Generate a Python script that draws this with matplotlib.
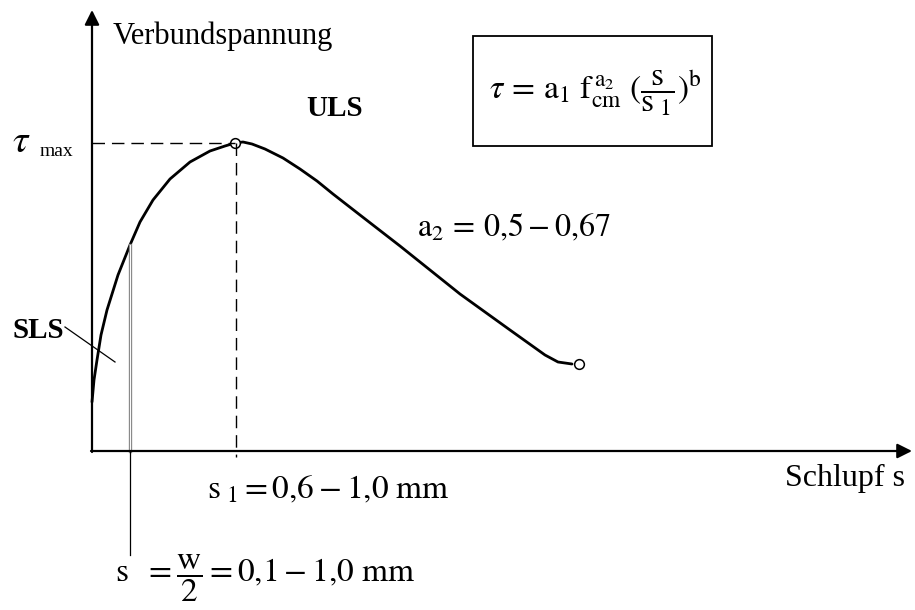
import numpy as np
import matplotlib
matplotlib.use("Agg")
import matplotlib.pyplot as plt
from matplotlib.patches import Rectangle

plt.rcParams['font.family'] = ['Liberation Serif', 'DejaVu Serif']
plt.rcParams['mathtext.fontset'] = 'stix'

# bond stress - slip curve (schematic units)
slip = [0, 2, 5, 9, 15, 26, 38, 48, 61, 78, 98, 118, 133, 143,
        151, 160, 173, 191, 208, 225, 241, 268, 308, 368, 418, 453, 466, 480, 487]
tau = [49, 71, 91, 116, 141, 176, 206, 229, 251, 272, 289, 300, 305, 308,
       309, 307, 302, 293, 282, 270, 257, 236, 205, 157, 121, 96, 89, 87, 87]

s_peak = 143
tau_max = 308
s_sls = 38
tau_sls = 206
s_end = 487
tau_end = 87

fig = plt.figure(figsize=(9.15, 6.1), dpi=100)
ax = fig.add_axes([0, 0, 1, 1])
ax.set_xlim(-92, 823)
ax.set_ylim(-159, 451)
ax.axis('off')

# axes with arrow heads
ax.annotate('', xy=(0, 441), xytext=(0, -1),
            arrowprops=dict(arrowstyle='-|>', lw=1.6, color='black', mutation_scale=22,
                            shrinkA=0, shrinkB=0))
ax.annotate('', xy=(820, 0), xytext=(-1, 0),
            arrowprops=dict(arrowstyle='-|>', lw=1.6, color='black', mutation_scale=22,
                            shrinkA=0, shrinkB=0))

# curve
ax.plot(slip[:-1], tau[:-1], color='black', lw=2.0, solid_capstyle='round', solid_joinstyle='round')
ax.plot([s_peak, s_end], [tau_max, tau_end], 'o', ms=7, mfc='white', mec='black', mew=1.1)

# tau_max and s1 guides
ax.plot([0, s_peak], [tau_max, tau_max], color='black', lw=1.0, dashes=(9, 5))
ax.plot([s_peak + 1, s_peak + 1], [tau_max, -6], color='black', lw=1.0, dashes=(9, 5))

# SLS slip marker
ax.plot([s_sls, s_sls], [tau_sls, 0], color='#8a8a8a', lw=2.4)
ax.plot([s_sls, s_sls], [tau_sls, 0], color='white', lw=0.7)
ax.plot([s_sls, s_sls], [0, -104], color='black', lw=0.9)

# SLS leader
ax.plot([-27, 23], [124, 89], color='black', lw=0.9)

txt = dict(color='black')
ax.text(21, 415, 'Verbundspannung', fontsize=22, va='center', ha='left', **txt)
ax.text(243, 343, 'ULS', fontsize=21, fontweight='bold', va='center', ha='center', **txt)
ax.text(-54, 121, 'SLS', fontsize=21, fontweight='bold', va='center', ha='center', **txt)
ax.text(-80, 309, r'$\tau$', fontsize=28, va='center', ha='left', **txt)
ax.text(-52, 299, 'max', fontsize=14, va='center', ha='left', **txt)

# formula box
ax.add_patch(Rectangle((381, 305), 239, 110, fill=False, lw=1.3, ec='black'))
ax.text(503, 358,
        r'$\tau\,=\,\mathrm{a}_1\ \mathrm{f}_{\mathrm{cm}}^{\,\mathrm{a}_2}\ (\dfrac{\mathrm{s}}{\mathrm{s}_{\ 1}})^{\mathrm{b}}$',
        fontsize=24, va='center', ha='center', **txt)

ax.text(325, 223, r'$\mathrm{a}_2\,=\,0{,}5-0{,}67$', fontsize=23, va='center', ha='left', **txt)
ax.text(115, -39, r'$\mathrm{s}_{\ 1}=0{,}6-1{,}0\ \mathrm{mm}$', fontsize=24, va='center', ha='left', **txt)
ax.text(813, -27, 'Schlupf s', fontsize=23, va='center', ha='right', **txt)
ax.text(23, -127, r'$\mathrm{s}\ \ =\dfrac{\mathrm{w}}{2}=0{,}1-1{,}0\ \mathrm{mm}$',
        fontsize=24, va='center', ha='left', **txt)

fig.savefig('out.png', dpi=100)
